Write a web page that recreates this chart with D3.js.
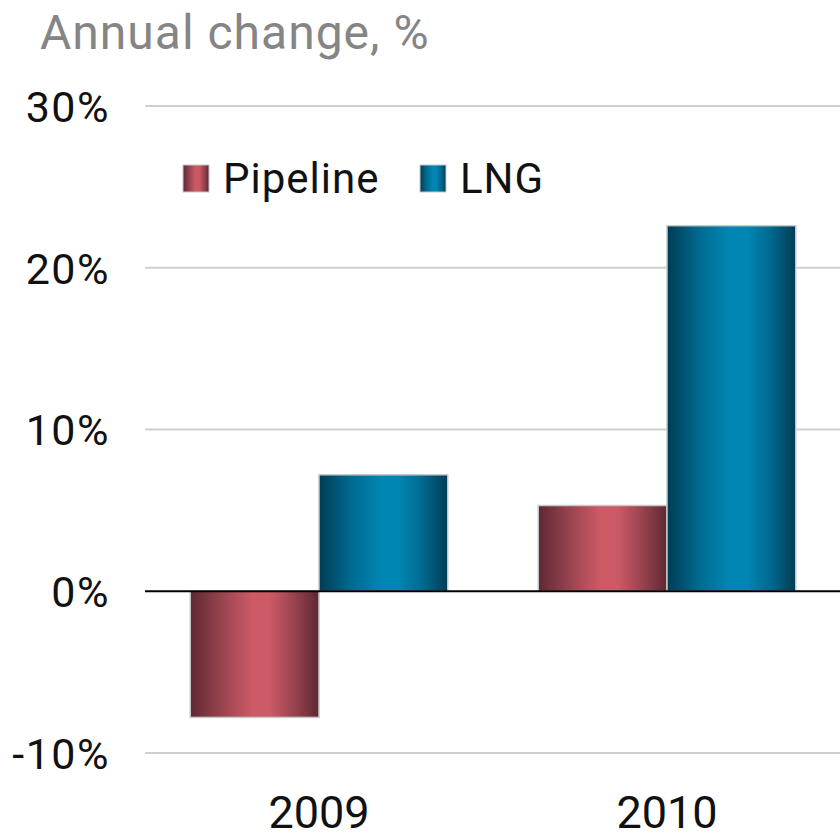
<!DOCTYPE html>
<html>
<head>
<meta charset="utf-8">
<script src="https://cdn.jsdelivr.net/npm/d3@7"></script>
<style>
  body { margin: 0; background: #fff; }
  svg text { font-family: Roboto, "Noto Sans", sans-serif; }
</style>
</head>
<body>
<div id="main"></div>
<script>
var years = ["2009", "2010"];
var seriesNames = ["Pipeline", "LNG"];
var pipeline = [-7.8, 5.3];
var lng = [7.2, 22.6];
var yTicks = [-10, 0, 10, 20, 30];

var width = 840, height = 839;

var svg = d3.select("#main").append("svg")
  .attr("width", width)
  .attr("height", height);

var defs = svg.append("defs");

// horizontal shaded gradient for the bars
function addGradient(id, edge, mid, centre) {
  var g = defs.append("linearGradient")
    .attr("id", id)
    .attr("x1", "0%").attr("x2", "100%")
    .attr("y1", "0%").attr("y2", "0%");
  g.append("stop").attr("offset", "0%").attr("stop-color", edge);
  g.append("stop").attr("offset", "25%").attr("stop-color", mid);
  g.append("stop").attr("offset", "48%").attr("stop-color", centre);
  g.append("stop").attr("offset", "62%").attr("stop-color", centre);
  g.append("stop").attr("offset", "80%").attr("stop-color", mid);
  g.append("stop").attr("offset", "100%").attr("stop-color", edge);
}
addGradient("gradPipe", "#5e2832", "#9a4450", "#cb5a65");
addGradient("gradLng", "#003c55", "#006a90", "#0086b2");

var colors = { "Pipeline": "url(#gradPipe)", "LNG": "url(#gradLng)" };

var x0 = d3.scaleBand()
  .domain(years)
  .range([145, 841])
  .paddingInner(0.26)
  .paddingOuter(0.13);

var x1 = d3.scaleBand()
  .domain(seriesNames)
  .range([0, x0.bandwidth()]);

var y = d3.scaleLinear()
  .domain([-10, 30])
  .range([753, 106]);

// gridlines
svg.append("g")
  .selectAll("line")
  .data(yTicks.filter(function(d) { return d !== 0; }))
  .enter().append("line")
  .attr("x1", 145)
  .attr("x2", width)
  .attr("y1", function(d) { return y(d); })
  .attr("y2", function(d) { return y(d); })
  .attr("stroke", "#cfcfcf")
  .attr("stroke-width", 2);

// y axis labels
var yaxis = d3.axisLeft(y)
  .tickValues(yTicks)
  .tickSize(0)
  .tickPadding(0)
  .tickFormat(function(d) { return d + "%"; });

var yg = svg.append("g")
  .attr("transform", "translate(110,0)")
  .call(yaxis);
yg.select(".domain").remove();
yg.selectAll("text")
  .attr("font-size", "43px")
  .attr("letter-spacing", "1.5px")
  .attr("fill", "#111")
  .attr("dy", "0.36em");

// bars
var rows = years.map(function(yr, i) {
  return [
    { year: yr, name: "Pipeline", value: pipeline[i] },
    { year: yr, name: "LNG", value: lng[i] }
  ];
});

svg.append("g")
  .selectAll("g")
  .data(rows)
  .enter().append("g")
  .attr("transform", function(d) { return "translate(" + x0(d[0].year) + ",0)"; })
  .selectAll("rect")
  .data(function(d) { return d; })
  .enter().append("rect")
  .attr("x", function(d) { return x1(d.name); })
  .attr("width", x1.bandwidth())
  .attr("y", function(d) { return y(Math.max(0, d.value)); })
  .attr("height", function(d) { return Math.abs(y(d.value) - y(0)); })
  .attr("fill", function(d) { return colors[d.name]; })
  .attr("stroke", "#c8c8c8")
  .attr("stroke-width", 1.5);

// zero line
svg.append("line")
  .attr("x1", 145)
  .attr("x2", width)
  .attr("y1", y(0))
  .attr("y2", y(0))
  .attr("stroke", "#000")
  .attr("stroke-width", 2);

// x axis labels
var xaxis = d3.axisBottom(x0).tickSize(0).tickPadding(0);
var xg = svg.append("g")
  .attr("transform", "translate(0,828)")
  .call(xaxis);
xg.select(".domain").remove();
xg.selectAll("text")
  .attr("font-size", "45px")
  .attr("fill", "#111")
  .attr("dy", "0");

// title
svg.append("text")
  .attr("x", 40)
  .attr("y", 49)
  .attr("font-size", "48px")
  .attr("letter-spacing", "1px")
  .attr("fill", "#858585")
  .text("Annual change, %");

// legend
var legend = svg.append("g").attr("transform", "translate(183,165)");
var legX = [0, 237];
seriesNames.forEach(function(name, i) {
  var lg = legend.append("g").attr("transform", "translate(" + legX[i] + ",0)");
  lg.append("rect")
    .attr("width", 26)
    .attr("height", 27)
    .attr("fill", colors[name])
    .attr("stroke", "#c8c8c8")
    .attr("stroke-width", 1);
  lg.append("text")
    .attr("x", 40)
    .attr("y", 28)
    .attr("font-size", "42px")
    .attr("letter-spacing", "1px")
    .attr("fill", "#111")
    .text(name);
});
</script>
</body>
</html>
